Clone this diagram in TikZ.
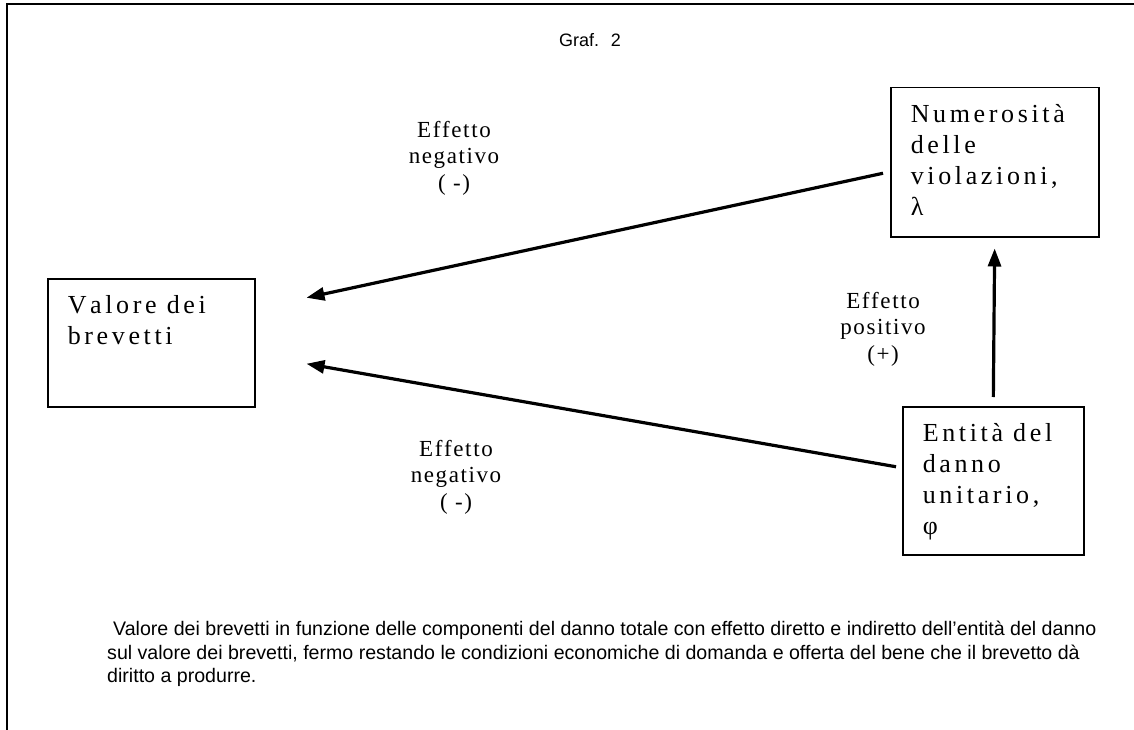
\documentclass[tikz,border=0pt]{standalone}
\usepackage{fontspec}
\setmainfont{Liberation Serif}
\newfontfamily\boxfont{Liberation Serif}[LetterSpace=14,Kerning=Off]
\newfontfamily\lblfont{Liberation Serif}[LetterSpace=7,Kerning=Off]
\newfontfamily\capfont{Liberation Sans}
\usetikzlibrary{arrows.meta}
\begin{document}
\begin{tikzpicture}[x=1pt,y=-1pt,
  frame/.style={line width=1.5pt},
  boxn/.style={draw,line width=1.5pt,anchor=north west,inner xsep=20pt,inner ysep=17pt,
     font=\boxfont\fontsize{26}{31}\selectfont},
  lbl/.style={align=center,font=\lblfont\fontsize{23}{26.5}\selectfont},
  arr/.style={line width=3.2pt,-{Triangle[length=18pt,width=13pt]}}]
\useasboundingbox (0,0) rectangle (1134,730);
\draw[frame] (1134,4) -- (7,4) -- (7,730);
\node[font=\capfont\fontsize{18}{21}\selectfont] (title) at (590,40) {Graf.~ 2};
\node[boxn] (num) at (890,87) {\parbox[t][115pt][t]{168pt}{\raggedright Numerosità\\delle\\violazioni,\\λ}};
\node[boxn] (val) at (47,278) {\parbox[t][94pt][t]{167pt}{\raggedright Valore dei\\brevetti}};
\node[boxn] (ent) at (902,406) {\parbox[t][114pt][t]{141pt}{\raggedright Entità del\\danno\\unitario,\\φ}};
\draw[arr] ([xshift=-7pt,yshift=-11pt]num.west) -- ([xshift=51pt,yshift=45pt]val.east);
\draw[arr] ([xshift=-6pt,yshift=14pt]ent.west) -- ([xshift=51pt,yshift=-21pt]val.east);
\draw[arr,shorten <=9pt,shorten >=11pt] (ent.north) -- (num.south);
\node[lbl] (l1) at (454,158) {Effetto\\negativo\\( -)};
\node[lbl] (l2) at (883,329) {Effetto\\positivo\\(+)};
\node[lbl] (l3) at (456,477) {Effetto\\negativo\\( -)};
\node[anchor=north west,align=left,inner sep=0pt,font=\capfont\fontsize{19.6}{23.5}\selectfont] (cap) at (107,621)
 {\hspace*{6pt}Valore dei brevetti in funzione delle componenti del danno totale con effetto diretto e indiretto dell’entità del danno\\
 sul valore dei brevetti, fermo restando le condizioni economiche di domanda e offerta del bene che il brevetto dà\\
 diritto a produrre.};
\end{tikzpicture}
\end{document}
